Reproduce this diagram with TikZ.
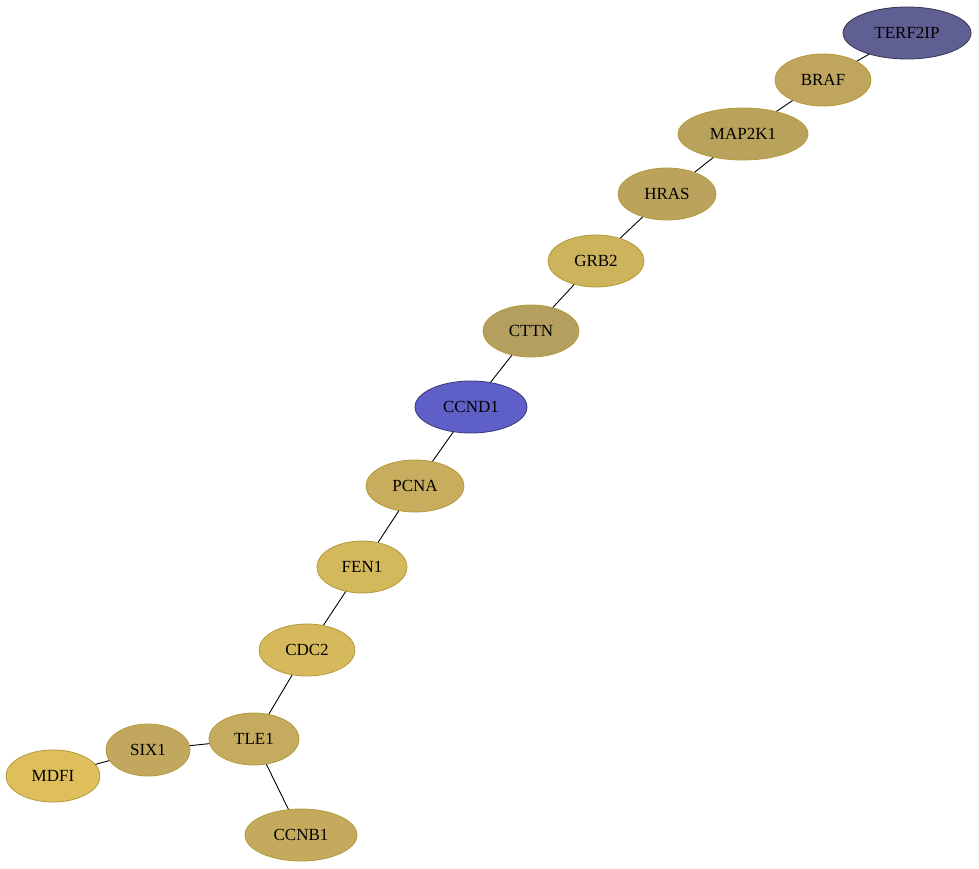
\documentclass[tikz,border=0pt]{standalone}
\usepackage{fontspec}
\setmainfont{Liberation Serif}
\usetikzlibrary{shapes.geometric}
\definecolor{cTERF}{HTML}{5F5F93}
\definecolor{cBRAF}{HTML}{C0A55E}
\definecolor{cMAP}{HTML}{B9A25C}
\definecolor{cHRAS}{HTML}{BBA35E}
\definecolor{cGRB}{HTML}{CDB35C}
\definecolor{cCTTN}{HTML}{B59F5F}
\definecolor{cCCND}{HTML}{5F5FC8}
\definecolor{cPCNA}{HTML}{C8AD5E}
\definecolor{cFEN}{HTML}{D4B85C}
\definecolor{cCDC}{HTML}{D5B95C}
\definecolor{cTLE}{HTML}{C5AB5E}
\definecolor{cSIX}{HTML}{C2A85E}
\definecolor{cMDFI}{HTML}{DFBF5C}
\definecolor{cCCNB}{HTML}{C5AA5D}
\definecolor{goldline}{HTML}{B39A3A}
\tikzset{
    gene/.style={ellipse, draw=goldline, line width=0.8pt, minimum height=52pt, inner sep=0pt, font=\fontsize{17}{19}\selectfont},
    bluegene/.style={gene, draw=#1},
    link/.style={black, line width=0.9pt}
}
\begin{document}
\begin{tikzpicture}[x=1pt,y=-1pt]
    \useasboundingbox (0,0) rectangle (979,869);

    \node[bluegene=cTERF!55!black, fill=cTERF, minimum width=128pt] (terf2ip) at (907,33) {TERF2IP};
    \node[gene, fill=cBRAF, minimum width=96pt] (braf) at (823,80) {BRAF};
    \node[gene, fill=cMAP, minimum width=130pt] (map2k1) at (743,134) {MAP2K1};
    \node[gene, fill=cHRAS, minimum width=98pt] (hras) at (667,194) {HRAS};
    \node[gene, fill=cGRB, minimum width=96pt] (grb2) at (596,261) {GRB2};
    \node[gene, fill=cCTTN, minimum width=96pt] (cttn) at (531,331) {CTTN};
    \node[bluegene=cCCND!60!black, fill=cCCND, minimum width=112pt] (ccnd1) at (471,407) {CCND1};
    \node[gene, fill=cPCNA, minimum width=98pt] (pcna) at (415,486) {PCNA};
    \node[gene, fill=cFEN, minimum width=90pt] (fen1) at (362,567) {FEN1};
    \node[gene, fill=cCDC, minimum width=96pt] (cdc2) at (307,650) {CDC2};
    \node[gene, fill=cTLE, minimum width=90pt] (tle1) at (254,739) {TLE1};
    \node[gene, fill=cSIX, minimum width=84pt] (six1) at (148,750) {SIX1};
    \node[gene, fill=cMDFI, minimum width=94pt] (mdfi) at (53,776) {MDFI};
    \node[gene, fill=cCCNB, minimum width=112pt] (ccnb1) at (301,835) {CCNB1};

    \draw[link] (terf2ip) -- (braf);
    \draw[link] (braf) -- (map2k1);
    \draw[link] (map2k1) -- (hras);
    \draw[link] (hras) -- (grb2);
    \draw[link] (grb2) -- (cttn);
    \draw[link] (cttn) -- (ccnd1);
    \draw[link] (ccnd1) -- (pcna);
    \draw[link] (pcna) -- (fen1);
    \draw[link] (fen1) -- (cdc2);
    \draw[link] (cdc2) -- (tle1);
    \draw[link] (tle1) -- (six1);
    \draw[link] (six1) -- (mdfi);
    \draw[link] (tle1) -- (ccnb1);

\end{tikzpicture}
\end{document}
